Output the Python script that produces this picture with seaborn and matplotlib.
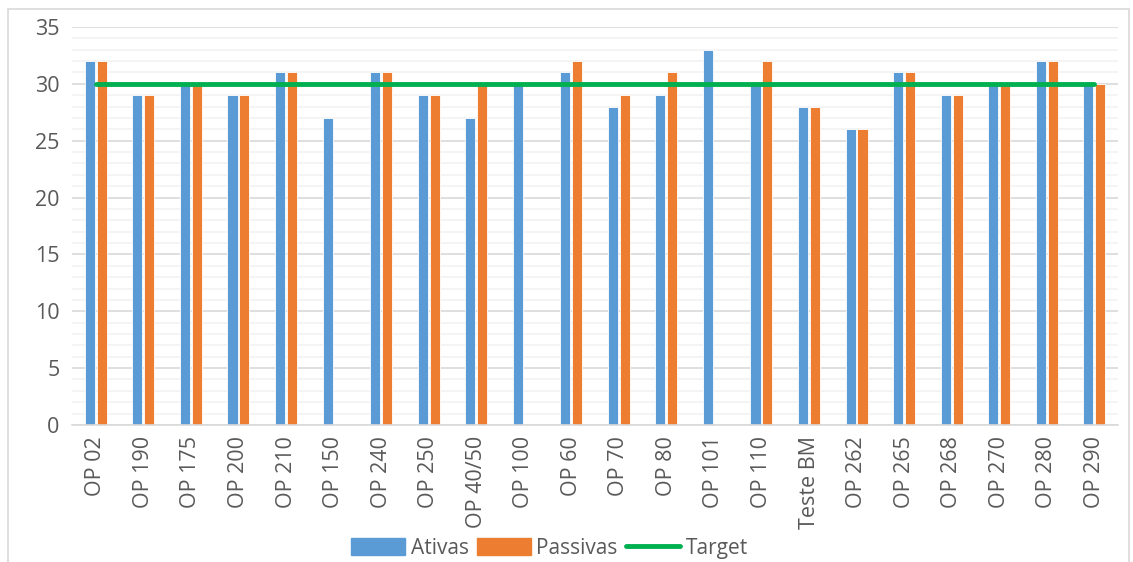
import numpy as np
import pandas as pd
import matplotlib
matplotlib.use("Agg")
import matplotlib.pyplot as plt
import seaborn as sns
from matplotlib.patches import Patch, Rectangle
from matplotlib.lines import Line2D
from matplotlib.ticker import MultipleLocator, FixedLocator

categories = ["OP 02", "OP 190", "OP 175", "OP 200", "OP 210", "OP 150", "OP 240",
              "OP 250", "OP 40/50", "OP 100", "OP 60", "OP 70", "OP 80", "OP 101",
              "OP 110", "Teste BM", "OP 262", "OP 265", "OP 268", "OP 270",
              "OP 280", "OP 290"]
ativas = [32, 29, 30, 29, 31, 27, 31, 29, 27, 30, 31, 28, 29, 33, 30, 28, 26, 31,
          29, 30, 32, 30]
passivas = [32, 29, 30, 29, 31, np.nan, 31, 29, 30, np.nan, 32, 29, 31, np.nan, 32,
            28, 26, 31, 29, 30, 32, 30]
target = [30] * len(categories)

BLUE = "#5B9BD5"
ORANGE = "#ED7D31"
GREEN = "#00B050"
TXT = "#595959"

sns.set_theme(style="white")
plt.rcParams["font.family"] = ["Open Sans", "DejaVu Sans"]

df = pd.DataFrame({"cat": categories * 2,
                   "serie": ["Ativas"] * len(categories) + ["Passivas"] * len(categories),
                   "valor": ativas + passivas}).dropna()

fig = plt.figure(figsize=(11.33, 5.62), dpi=100)
ax = fig.add_axes([0.0636, 0.2438, 0.9232, 0.7082])

sns.barplot(data=df, x="cat", y="valor", hue="serie", order=categories,
            palette=[BLUE, ORANGE], saturation=1, width=0.5, gap=0.15, ax=ax,
            legend=False, edgecolor="white", linewidth=0.6)
ax.plot(range(len(categories)), target, color=GREEN, lw=3.5, zorder=5)

ax.set_ylim(0, 35)
ax.set_xlim(-0.5, len(categories) - 0.5)
ax.yaxis.set_major_locator(MultipleLocator(5))
ax.yaxis.set_minor_locator(MultipleLocator(1))
ax.grid(axis="y", which="major", color="#D9D9D9", lw=1.2, zorder=0)
ax.grid(axis="y", which="minor", color="#F2F2F2", lw=1.2, zorder=0)
ax.set_axisbelow(True)

for s in ["left", "right", "top"]:
    ax.spines[s].set_visible(False)
ax.spines["bottom"].set_color("#D9D9D9")
ax.spines["bottom"].set_linewidth(1.2)

ax.set_xlabel("")
ax.set_ylabel("")
ax.tick_params(axis="y", which="both", length=0, labelsize=15.5, labelcolor=TXT, pad=9)
ax.tick_params(axis="x", which="major", length=0, labelsize=15.5, labelcolor=TXT,
               rotation=90, pad=8)
ax.xaxis.set_minor_locator(FixedLocator(np.arange(-0.5, len(categories), 1)))
ax.tick_params(axis="x", which="minor", length=7, color="#D9D9D9", width=1.2)

handles = [Patch(color=BLUE, label="Ativas"),
           Patch(color=ORANGE, label="Passivas"),
           Line2D([0], [0], color=GREEN, lw=3.5, label="Target")]
fig.legend(handles=handles, loc="center", bbox_to_anchor=(0.485, 0.024), ncol=3,
           frameon=False, fontsize=15, labelcolor=TXT, handlelength=2.6,
           handleheight=0.9, columnspacing=0.4, handletextpad=0.25,
           borderpad=0.1)

fig.add_artist(Rectangle((8 / 1133, -0.1), 1121 / 1133, 1 - 9 / 562 + 0.1,
                         transform=fig.transFigure, fill=False,
                         edgecolor="#D9D9D9", lw=1.2))

fig.savefig("out.png", dpi=100)
